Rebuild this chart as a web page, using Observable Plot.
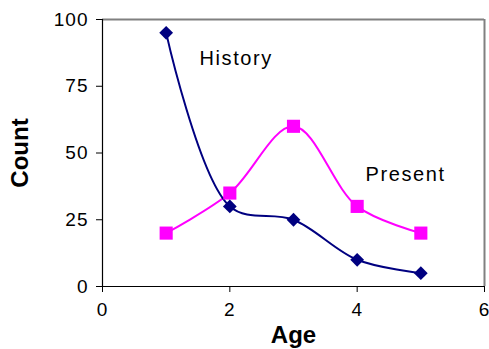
<!DOCTYPE html>
<html>
<head>
<meta charset="utf-8">
<script src="https://cdn.jsdelivr.net/npm/d3@7"></script>
<script src="https://cdn.jsdelivr.net/npm/@observablehq/plot@0.6"></script>
<style>
  html, body { margin: 0; padding: 0; background: #fff; }
  #chart svg { display: block; font-family: "Liberation Sans", Arial, sans-serif; }
  #chart g[aria-label="x-axis tick label"] text,
  #chart g[aria-label="y-axis tick label"] text { font-size: 19px; letter-spacing: 1px; fill: #000; }
  #chart g[aria-label="x-axis label"] text,
  #chart g[aria-label="y-axis label"] text { font-size: 24px; font-weight: bold; fill: #000; }
  #chart g[aria-label="text"] text { font-size: 20px; letter-spacing: 1.6px; fill: #000; }
</style>
</head>
<body>
<div id="chart"></div>
<script>
const ages = [1, 2, 3, 4, 5];
const history = [95, 30, 25, 10, 5];
const present = [20, 35, 60, 30, 20];
const xTicks = [0, 2, 4, 6];
const yTicks = [0, 25, 50, 75, 100];
const seriesLabels = [
  {text: "History", x: 2.1, y: 85.5},
  {text: "Present", x: 4.76, y: 42}
];

const historyData = ages.map((a, i) => ({age: a, count: history[i]}));
const presentData = ages.map((a, i) => ({age: a, count: present[i]}));

const navy = "#000080";
const magenta = "#FF00FF";

const chart = Plot.plot({
  width: 489,
  height: 349,
  marginLeft: 102,
  marginRight: 5,
  marginTop: 19,
  marginBottom: 63,
  x: {domain: [0, 6]},
  y: {domain: [0, 100]},
  marks: [
    Plot.ruleY([100], {stroke: "#808080", strokeWidth: 2}),
    Plot.ruleX([6], {stroke: "#808080", strokeWidth: 2}),
    Plot.axisX({ticks: xTicks, tickSize: 6, tickPadding: 10, tickFormat: d => String(d),
      label: "Age", labelAnchor: "center", labelArrow: "none", labelOffset: 56, stroke: "#000"}),
    Plot.axisY({ticks: yTicks, tickSize: 6, tickPadding: 8, tickFormat: d => String(d),
      label: "Count", labelAnchor: "center", labelArrow: "none", labelOffset: 92, stroke: "#000"}),
    Plot.ruleX([0], {stroke: "#000", strokeWidth: 1.2}),
    Plot.ruleY([0], {stroke: "#000", strokeWidth: 1.2}),
    Plot.line(presentData, {x: "age", y: "count", stroke: magenta, strokeWidth: 2, curve: "catmull-rom"}),
    Plot.line(historyData, {x: "age", y: "count", stroke: navy, strokeWidth: 2, curve: "catmull-rom"}),
    Plot.dot(presentData, {x: "age", y: "count", symbol: "square", r: 7.4, fill: magenta, stroke: "none"}),
    Plot.dot(historyData, {x: "age", y: "count", symbol: "diamond2", r: 6.2, fill: navy, stroke: "none"}),
    Plot.text(seriesLabels, {x: "x", y: "y", text: "text", textAnchor: "middle"})
  ]
});
document.getElementById("chart").appendChild(chart);
</script>
</body>
</html>
